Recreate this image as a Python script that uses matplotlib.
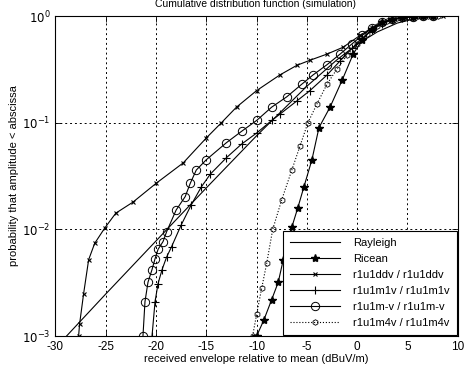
import matplotlib
matplotlib.use("Agg")
import matplotlib.pyplot as plt
import numpy as np

plt.rcParams['font.family'] = ['Liberation Sans', 'DejaVu Sans']

# ---- data ----
ray_x = [-28.9, -25, -20, -15, -10, -5, -2, 0, 2, 4, 6, 8]
ray_p = [0.001, 0.00248, 0.0078, 0.0245, 0.0755, 0.22, 0.39, 0.544, 0.71, 0.86, 0.956, 0.993]

ric_x = [-10.0, -9.3, -8.5, -7.85, -7.35, -6.5, -5.9, -5.3, -4.5, -3.8, -2.7, -1.5, -0.4,
         0.5, 1.5, 2.5, 3.5, 4.5, 5.5, 6.5, 7.5]
ric_p = [0.001, 0.0014, 0.0022, 0.0032, 0.0052, 0.0105, 0.016, 0.025, 0.045, 0.09, 0.14,
         0.25, 0.44, 0.6, 0.76, 0.87, 0.94, 0.975, 0.99, 0.997, 1.0]

ddv_x = [-27.7, -27.6, -27.2, -26.7, -26.1, -25.1, -24.0, -22.3, -20.0, -17.3, -15.0, -13.5,
         -12.0, -10.0, -7.7, -6.0, -4.7, -3.0, -1.4, 0.3, 1.5, 2.5, 3.5, 4.5, 5.5, 6.5, 7.5, 8.5]
ddv_p = [0.001, 0.0013, 0.0025, 0.0052, 0.0074, 0.0103, 0.0142, 0.018, 0.027, 0.042, 0.072,
         0.1, 0.14, 0.2, 0.28, 0.345, 0.385, 0.44, 0.51, 0.66, 0.78, 0.87, 0.93, 0.965, 0.985,
         0.995, 0.999, 1.0]

m1v_x = [-20.4, -20.1, -19.8, -19.4, -18.95, -18.45, -17.5, -16.5, -15.5, -14.6, -13.0,
         -11.5, -10.0, -8.5, -7.7, -6.0, -4.7, -3.0, -1.7, -0.5, 0.5, 1.5, 2.5, 3.5, 4.5,
         5.5, 6.5, 7.5]
m1v_p = [0.001, 0.0021, 0.0031, 0.0042, 0.0055, 0.0069, 0.011, 0.017, 0.025, 0.033, 0.047,
         0.063, 0.08, 0.105, 0.12, 0.16, 0.2, 0.28, 0.38, 0.5, 0.62, 0.74, 0.85, 0.92, 0.96,
         0.985, 0.996, 1.0]

mmv_x = [-21.3, -21.1, -20.8, -20.4, -20.1, -19.8, -19.3, -18.95, -18.0, -17.1, -16.6,
         -16.0, -15.0, -13.0, -11.5, -10.0, -8.5, -7.0, -5.5, -4.4, -3.0, -1.7, -0.5, 0.5,
         1.5, 2.5, 3.5, 4.5, 5.5, 6.5, 7.5]
mmv_p = [0.001, 0.0021, 0.0032, 0.0042, 0.0053, 0.0065, 0.0077, 0.0095, 0.0152, 0.0203,
         0.027, 0.036, 0.045, 0.065, 0.083, 0.105, 0.14, 0.175, 0.23, 0.28, 0.35, 0.44,
         0.55, 0.66, 0.77, 0.87, 0.93, 0.97, 0.99, 0.997, 1.0]

m4v_x = [-10.4, -10.0, -9.5, -9.0, -8.4, -7.5, -6.5, -5.7, -4.9, -4.0, -3.0, -2.0, -1.0,
         0.0, 1.0, 2.0, 3.0, 4.0, 5.0, 6.0, 7.0, 8.0]
m4v_p = [0.001, 0.0016, 0.0028, 0.0048, 0.01, 0.019, 0.036, 0.06, 0.1, 0.15, 0.23, 0.32,
         0.43, 0.55, 0.68, 0.8, 0.89, 0.95, 0.98, 0.993, 0.998, 1.0]

labels = ['Rayleigh', 'Ricean', 'r1u1ddv / r1u1ddv', 'r1u1m1v / r1u1m1v',
          'r1u1m-v / r1u1m-v', 'r1u1m4v / r1u1m4v']
xticks = [-30, -25, -20, -15, -10, -5, 0, 5, 10]

fig = plt.figure(figsize=(4.70, 3.73), dpi=100)
ax = fig.add_axes([0.118, 0.099, 0.856, 0.858])

lw = 0.8
ax.semilogy(ray_x, ray_p, '-', color='k', lw=lw, label=labels[0])
ax.semilogy(ric_x, ric_p, '-', color='k', lw=lw, marker='*', ms=6, mfc='k', label=labels[1])
ax.semilogy(ddv_x, ddv_p, '-', color='k', lw=lw, marker='x', ms=3, mew=0.8, label=labels[2])
ax.semilogy(m1v_x, m1v_p, '-', color='k', lw=lw, marker='+', ms=6, mew=0.8, label=labels[3])
ax.semilogy(mmv_x, mmv_p, '-', color='k', lw=lw, marker='o', ms=6, mfc='none', mew=0.7, label=labels[4])
ax.semilogy(m4v_x, m4v_p, ':', color='k', lw=lw, marker='h', ms=4, mfc='none', mew=0.6, label=labels[5])

ax.set_xlim(-30, 10)
ax.set_ylim(1e-3, 1)
ax.set_xticks(xticks)
ax.set_xticklabels([str(t) for t in xticks])
ax.set_yticks([1e-3, 1e-2, 1e-1, 1])
ax.set_yticklabels([r'$10^{-3}$', r'$10^{-2}$', r'$10^{-1}$', r'$10^{0}$'])
ax.yaxis.set_minor_locator(matplotlib.ticker.NullLocator())
ax.tick_params(direction='in', top=True, right=True, labelsize=8.5, length=4, width=0.6)
ax.grid(True, which='major', linestyle=(0, (2, 3)), color='k', lw=0.7)
for s in ax.spines.values():
    s.set_linewidth(0.8)

ax.set_xlabel('received envelope relative to mean (dBuV/m)', fontsize=8, labelpad=1)
ax.set_ylabel('probability that amplitude < abscissa', fontsize=8, labelpad=2)
fig.text(0.543, 0.99, 'Cumulative distribution function (simulation)', ha='center',
         va='center', fontsize=7.5)

leg = ax.legend(loc='lower right', bbox_to_anchor=(1.0, 0.0), fontsize=8, frameon=True,
                fancybox=False, edgecolor='k', framealpha=1, handlelength=4.5,
                borderpad=0.6, labelspacing=0.55, handletextpad=1.2, borderaxespad=0.1)
leg.get_frame().set_linewidth(0.8)

fig.savefig('out.png', dpi=100)
